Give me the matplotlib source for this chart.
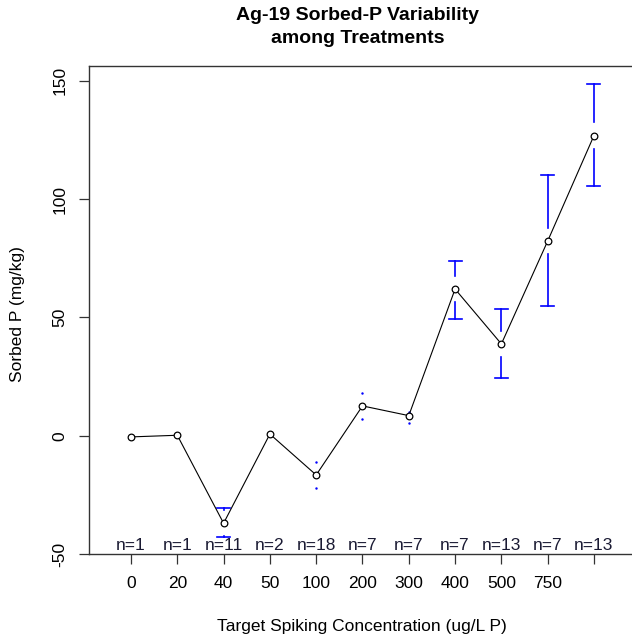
import numpy as np
import matplotlib
matplotlib.use("Agg")
import matplotlib.pyplot as plt

# treatment levels and summary stats
levels = ['0', '20', '40', '50', '100', '200', '300', '400', '500', '750', '']
n_obs = [1, 1, 11, 2, 18, 7, 7, 7, 13, 7, 13]
means = [-0.5, 0.2, -37.0, 0.7, -16.6, 12.6, 8.5, 62.0, 38.8, 82.3, 126.9]
ci_low = [np.nan, np.nan, -42.7, np.nan, -22.0, 7.1, 5.3, 49.5, 24.5, 54.9, 105.6]
ci_high = [np.nan, np.nan, -30.4, np.nan, -11.1, 17.9, 10.2, 73.9, 53.7, 110.3, 148.9]

plt.rcParams['font.family'] = ['Liberation Sans', 'DejaVu Sans']

fig = plt.figure(figsize=(6.32, 6.41), dpi=100)
W, H = 632, 641
left, right, top, bottom = 89, 650, 66, 554
ax = fig.add_axes([left / W, (H - bottom) / H, (right - left) / W, (bottom - top) / H])

x = np.arange(1, len(means) + 1)
ax.set_xlim(0.093, 12.21)
ax.set_ylim(-50, 156.3)

gap = 5.6
cap = 0.14
for xi, m, lo, hi in zip(x, means, ci_low, ci_high):
    for end, sgn in ((hi, 1), (lo, -1)):
        if np.isnan(end):
            continue
        if abs(end - m) > gap:
            ax.plot([xi, xi], [m + sgn * gap, end], color='blue', lw=1.2)
            ax.plot([xi - cap, xi + cap], [end, end], color='blue', lw=1.2)
        else:
            ax.plot([xi], [end], marker='.', color='blue', ms=1.5)

ax.plot(x, means, color='black', lw=0.8, marker='o', ms=4.8, mfc='white',
        mec='black', mew=0.9)

for xi, n in zip(x, n_obs):
    ax.text(xi, -49.5, 'n={}'.format(n), ha='center', va='bottom', fontsize=12.5,
            color='#1a1a33')

ax.set_xticks(x)
ax.set_xticklabels(levels, fontsize=12.5)
ax.set_yticks([-50, 0, 50, 100, 150])
ax.set_yticklabels(['-50', '0', '50', '100', '150'], fontsize=12.5, rotation=90,
                   va='center')
ax.tick_params(axis='both', direction='out', length=7.5, width=0.9, color='#333333')
ax.tick_params(axis='x', pad=8)
ax.tick_params(axis='y', pad=8)
for s in ax.spines.values():
    s.set_linewidth(1.0)
    s.set_color('#333333')

fig.text(358 / W, 1 - 27 / H, 'Ag-19 Sorbed-P Variability\namong Treatments',
         ha='center', va='center', fontsize=14, fontweight='bold',
         linespacing=1.4)
fig.text(362 / W, 1 - 627 / H, 'Target Spiking Concentration (ug/L P)',
         ha='center', va='center', fontsize=12.5)
fig.text(18 / W, 1 - 314 / H, 'Sorbed P (mg/kg)', ha='center', va='center',
         rotation=90, fontsize=12.5)

fig.savefig('out.png', dpi=100)
